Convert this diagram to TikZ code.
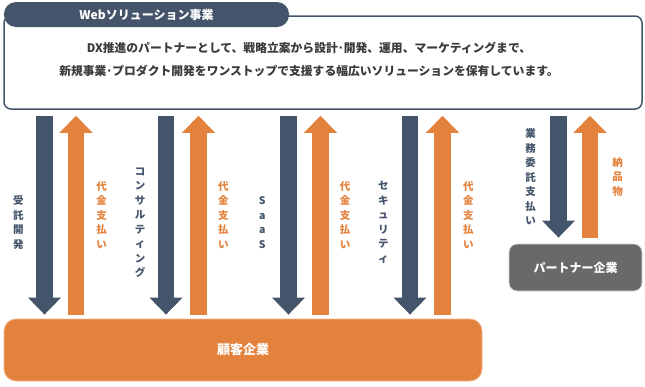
\documentclass[tikz,border=0pt]{standalone}
\usepackage{fontspec}
\setmainfont{Noto Sans CJK JP}
\usetikzlibrary{arrows.meta, positioning}
\definecolor{solNavy}{HTML}{44546A}
\definecolor{solOrange}{HTML}{E3823D}
\definecolor{solOrangeEdge}{HTML}{F2B48A}
\definecolor{solGrey}{HTML}{696969}
\definecolor{solText}{HTML}{3B3B3B}
\tikzset{
  solfig/.style={
    x=1pt, y=-1pt,
    every node/.append style={font=\bfseries},
  },
  tabnode/.style={
    fill=solNavy, rounded corners=12pt, text=white, inner sep=0pt,
    minimum width=285pt, minimum height=25pt, font=\fontsize{12}{14}\selectfont\bfseries,
  },
  panelbox/.style={
    draw=solNavy, line width=1.5pt, fill=white, rounded corners=7pt,
    minimum width=638pt, minimum height=93pt,
  },
  custnode/.style={
    draw=solOrangeEdge, line width=0.8pt, fill=solOrange, rounded corners=12pt,
    text=white, minimum width=478pt, minimum height=62pt,
    font=\fontsize{13}{15}\selectfont\bfseries,
  },
  partnernode/.style={
    draw=black!15, line width=0.8pt, fill=solGrey, rounded corners=8pt,
    text=white, minimum width=133pt, minimum height=47pt,
    font=\fontsize{12}{14}\selectfont\bfseries,
  },
  % 太い矢印: 線幅で軸、先端は三角
  downarr/.style={draw=solNavy, line width=16.5pt, -{Triangle[length=17pt, width=32pt]}},
  uparr/.style={draw=solOrange, line width=16.5pt, -{Triangle[length=17pt, width=32pt]}},
  vlabel/.style={text=solNavy, align=center, inner sep=0pt,
    font=\fontsize{10.5}{14.5}\selectfont\bfseries},
  paylabel/.style={vlabel, text=solOrange},
}

\begin{document}
\begin{tikzpicture}[solfig]
  \useasboundingbox (0,0) rectangle (645,386);

  % 上の枠
  \node[panelbox] (panel) at (323,62.5) {};
  \node[tabnode] (tab) at (146.5,14.5) {Webソリューション事業};
  \node[text=solText, align=center, inner sep=0pt,
        font=\fontsize{11.8}{23}\selectfont\bfseries] (intro) at (309,59.5)
    {DX推進のパートナーとして、戦略立案から設計･開発、運用、マーケティングまで、\\
     新規事業･プロダクト開発をワンストップで支援する幅広いソリューションを保有しています。};

  \node[custnode] (cust) at (243,350) {顧客企業};
  \node[partnernode] (partner) at (575.5,267.5) {パートナー企業};

  % 矢印の位置
  \coordinate (d1) at (44.5,0);
  \coordinate (u1) at (76,0);
  \coordinate (d2) at (166,0);
  \coordinate (u2) at (198.5,0);
  \coordinate (d3) at (288.5,0);
  \coordinate (u3) at (320.5,0);
  \coordinate (d4) at (410,0);
  \coordinate (u4) at (442.5,0);
  \coordinate (d5) at (558.5,0);
  \coordinate (u5) at (590,0);

  \draw[downarr, shorten <=6pt, shorten >=4pt] (d1 |- panel.south) -- (d1 |- cust.north);
  \draw[uparr, shorten <=4pt, shorten >=6pt] (u1 |- cust.north) -- (u1 |- panel.south);
  \draw[downarr, shorten <=6pt, shorten >=4pt] (d2 |- panel.south) -- (d2 |- cust.north);
  \draw[uparr, shorten <=4pt, shorten >=6pt] (u2 |- cust.north) -- (u2 |- panel.south);
  \draw[downarr, shorten <=6pt, shorten >=4pt] (d3 |- panel.south) -- (d3 |- cust.north);
  \draw[uparr, shorten <=4pt, shorten >=6pt] (u3 |- cust.north) -- (u3 |- panel.south);
  \draw[downarr, shorten <=6pt, shorten >=4pt] (d4 |- panel.south) -- (d4 |- cust.north);
  \draw[uparr, shorten <=4pt, shorten >=6pt] (u4 |- cust.north) -- (u4 |- panel.south);
  \draw[downarr, shorten <=6pt, shorten >=6pt] (d5 |- panel.south) -- (d5 |- partner.north);
  \draw[uparr, shorten <=6pt, shorten >=6pt] (u5 |- partner.north) -- (u5 |- panel.south);

  % 縦書きラベル
  \node[vlabel] (lbl1) at (18.3,222.5) {受\\託\\開\\発};
  \node[paylabel] (pay1) at (101.7,214.7) {代\\金\\支\\払\\い};
  \node[vlabel] (lbl2) at (140,222.5) {コ\\ン\\サ\\ル\\テ\\ィ\\ン\\グ};
  \node[paylabel] (pay2) at (223.3,214.7) {代\\金\\支\\払\\い};
  \node[vlabel] (lbl3) at (262.3,222.5) {S\\a\\a\\S};
  \node[paylabel] (pay3) at (345,214.7) {代\\金\\支\\払\\い};
  \node[vlabel] (lbl4) at (383.3,222.5) {セ\\キ\\ュ\\リ\\テ\\ィ};
  \node[paylabel] (pay4) at (468.3,214.7) {代\\金\\支\\払\\い};
  \node[vlabel] (lbl5) at (530.7,176.7) {業\\務\\委\\託\\支\\払\\い};
  \node[paylabel] (pay5) at (617.7,176.7) {納\\品\\物};
\end{tikzpicture}
\end{document}
